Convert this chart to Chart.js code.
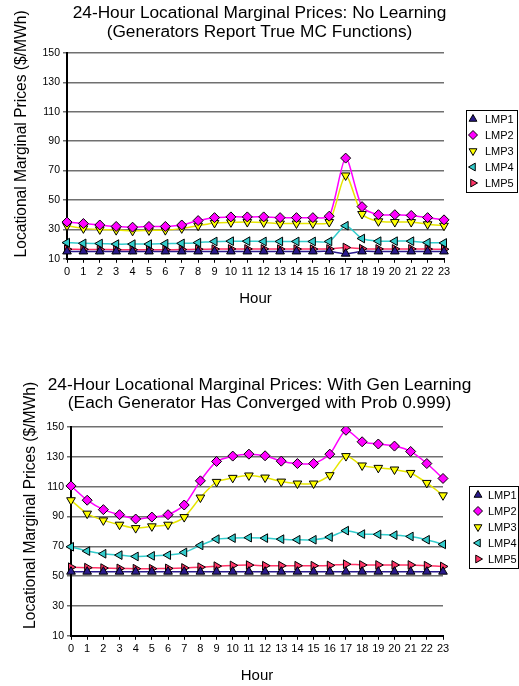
<!DOCTYPE html>
<html>
<head>
<meta charset="utf-8">
<script src="https://cdn.jsdelivr.net/npm/chart.js@4/dist/chart.umd.min.js"></script>
<style>
  body { margin: 0; background: #fff; overflow: hidden; }
  .box { position: absolute; left: 0; width: 519px; }
</style>
</head>
<body>
<div class="box" style="top:0;height:316px"><canvas id="chartA" width="519" height="316"></canvas></div>
<div class="box" style="top:372px;height:314px"><canvas id="chartB" width="519" height="321"></canvas></div>
<script>
const hours = ["0","1","2","3","4","5","6","7","8","9","10","11","12","13","14","15","16","17","18","19","20","21","22","23"];
const seriesNames = ["LMP1", "LMP2", "LMP3", "LMP4", "LMP5"];

// No learning
const lmp1A = [15,15,15,15,15,15,15,15,15,15,15,15,15,15,15,15,15,13.5,15,15,15,15,15,15];
const lmp2A = [35,34,33,32,31.5,32,32,33,36,38,38.5,38.5,38.5,38,38,38,39,78.5,45.5,40,40,39.5,38,36.5];
const lmp3A = [32.5,30.7,30,29.5,29,29.3,29.5,30.7,32.5,34.4,34.8,35,34.7,34,34,34,35,66.7,40.5,35.5,35,35,33.5,32.5];
const lmp4A = [21,20.5,20.4,20,20,20,20.3,20.5,21,21.8,22,22,21.8,21.8,21.8,21.8,21.8,32.5,23.8,22,22,22,21,20.8];
const lmp5A = [16.5,16.4,16.3,16.2,16.2,16.2,16.2,16.3,16.5,16.6,16.7,16.7,16.7,16.6,16.6,16.6,16.7,17.7,16.9,16.7,16.7,16.7,16.6,16.5];

// With gen learning
const lmp1B = [53,53,53,53,53,53,53,53,53,53,53,53,53,53,53,53,53,53,53,53,53,53,53,53];
const lmp2B = [110.5,100.9,94.6,91.2,88.3,89.6,91.2,97.7,113.9,126.9,130.5,131.8,130.7,127.1,125.5,125.5,131.8,147.8,140.1,138.6,137.2,133.6,125.5,115.5];
const lmp3B = [100.9,91.9,87.4,84.5,82.2,83.4,84.5,89.6,102.7,113.2,115.9,117.5,116.1,113.4,112.1,112.1,117.7,130.5,124.2,122.6,121.5,119.2,112.5,104.2];
const lmp4B = [69.7,66.8,65,64.1,63.2,63.6,64.1,65.9,70.6,74.8,75.5,75.8,75.5,74.8,74.4,74.4,76.2,80.5,78.2,78,77.5,76.6,74.4,71.3];
const lmp5B = [56,55.7,55.4,55.2,55,55,55.2,55.5,56,56.7,57.2,57.4,57,57,57,57,57.2,58,57.5,57.5,57.5,57.5,57,56.5];

const lineColors = ["#2a1a8c", "#ff00ff", "#ffff00", "#33cccc", "#ff3366"];
const lineStroke = ["#2a1a8c", "#ff00ff", "#e6e600", "#33cccc", "#ff3366"];
const markers = ["triangle", "rectRot", "triangle", "triangle", "triangle"];
const rotations = [0, 0, 180, -90, 90];
const FONT = "Arial, 'Liberation Sans', sans-serif";

// title centred on the whole canvas, off-centre y title, boxed legend
const extras = {
    id: "extras",
    afterDraw(chart, args, opts) {
        const c = chart.ctx;
        const area = chart.chartArea;
        const midY = (area.top + area.bottom) / 2;

        c.save();
        c.fillStyle = "#000";
        c.textAlign = "center";
        c.textBaseline = "middle";
        c.font = "17.3px " + FONT;
        opts.title.forEach((line, i) => c.fillText(line, chart.width / 2, opts.titleY[i]));
        c.font = "15.6px " + FONT;
        c.translate(opts.yTitleX, midY + opts.yTitleDy);
        c.rotate(-Math.PI / 2);
        c.fillText("Locational Marginal Prices ($/MWh)", 0, 0);
        c.restore();

        const n = chart.data.datasets.length;
        const h = n * opts.rowH + 2;
        const top = Math.round(midY + opts.legendDy - h / 2);
        c.save();
        c.strokeStyle = "#000";
        c.lineWidth = 1;
        c.strokeRect(opts.legendX + 0.5, top + 0.5, opts.legendW, h);
        c.font = "11px " + FONT;
        c.textAlign = "left";
        c.textBaseline = "middle";
        chart.data.datasets.forEach((ds, i) => {
            const y = top + 1 + opts.rowH * (i + 0.5);
            c.fillStyle = ds.pointBackgroundColor;
            c.strokeStyle = "#000";
            c.lineWidth = 1;
            Chart.helpers.drawPoint(c, { pointStyle: ds.pointStyle, rotation: ds.pointRotation, radius: 4.5, borderWidth: 1 },
                opts.legendX + opts.markerDx, y);
            c.fillStyle = "#000";
            c.fillText(ds.label, opts.legendX + 19, y + 0.5);
        });
        c.restore();
    }
};

function makeChart(id, data, cfg) {
    const datasets = data.map((vals, i) => ({
        label: seriesNames[i],
        data: vals,
        borderColor: lineStroke[i],
        backgroundColor: lineColors[i],
        borderWidth: 1.5,
        pointStyle: markers[i],
        pointRotation: rotations[i],
        pointRadius: 5,
        pointBorderColor: "#000",
        pointBorderWidth: 1,
        pointBackgroundColor: lineColors[i],
        tension: 0.25
    }));

    return new Chart(document.getElementById(id), {
        type: "line",
        data: { labels: hours, datasets: datasets },
        plugins: [extras],
        options: {
            responsive: false,
            animation: false,
            layout: { padding: { left: cfg.axisX - 26, right: cfg.padRight, top: cfg.padTop, bottom: 4 } },
            plugins: {
                legend: { display: false },
                tooltip: { enabled: false },
                extras: cfg.extras
            },
            scales: {
                x: {
                    offset: false,
                    grid: { display: true, drawOnChartArea: false, drawTicks: true, tickLength: 4, color: "#000" },
                    border: { color: "#000", width: 2 },
                    ticks: { color: "#000", font: { family: FONT, size: 11 }, maxRotation: 0, autoSkip: false, padding: 3 },
                    title: { display: true, text: "Hour", color: "#000", font: { family: FONT, size: 15 }, padding: { top: 8 } }
                },
                y: {
                    min: 10,
                    max: 150,
                    afterFit: scale => { scale.width = 26; },
                    ticks: { stepSize: 20, color: "#000", font: { family: FONT, size: 10.5 }, padding: 3 },
                    grid: { color: "#707070", lineWidth: 1.5, tickLength: 4 },
                    border: { color: "#000", width: 2 }
                }
            }
        }
    });
}

makeChart("chartA", [lmp1A, lmp2A, lmp3A, lmp4A, lmp5A],
    { axisX: 67, padRight: 75, padTop: 53,
      extras: { title: ["24-Hour Locational Marginal Prices: No Learning", "(Generators Report True MC Functions)"],
                titleY: [13, 32], yTitleX: 21.5, yTitleDy: -22,
                legendX: 466, legendW: 51, legendDy: -5, rowH: 16, markerDx: 7 } });

makeChart("chartB", [lmp1B, lmp2B, lmp3B, lmp4B, lmp5B],
    { axisX: 71, padRight: 76, padTop: 55,
      extras: { title: ["24-Hour Locational Marginal Prices: With Gen Learning", "(Each Generator Has Converged with Prob 0.999)"],
                titleY: [13, 31], yTitleX: 31, yTitleDy: -26,
                legendX: 469, legendW: 49, legendDy: -4, rowH: 16, markerDx: 9 } });
</script>
</body>
</html>
